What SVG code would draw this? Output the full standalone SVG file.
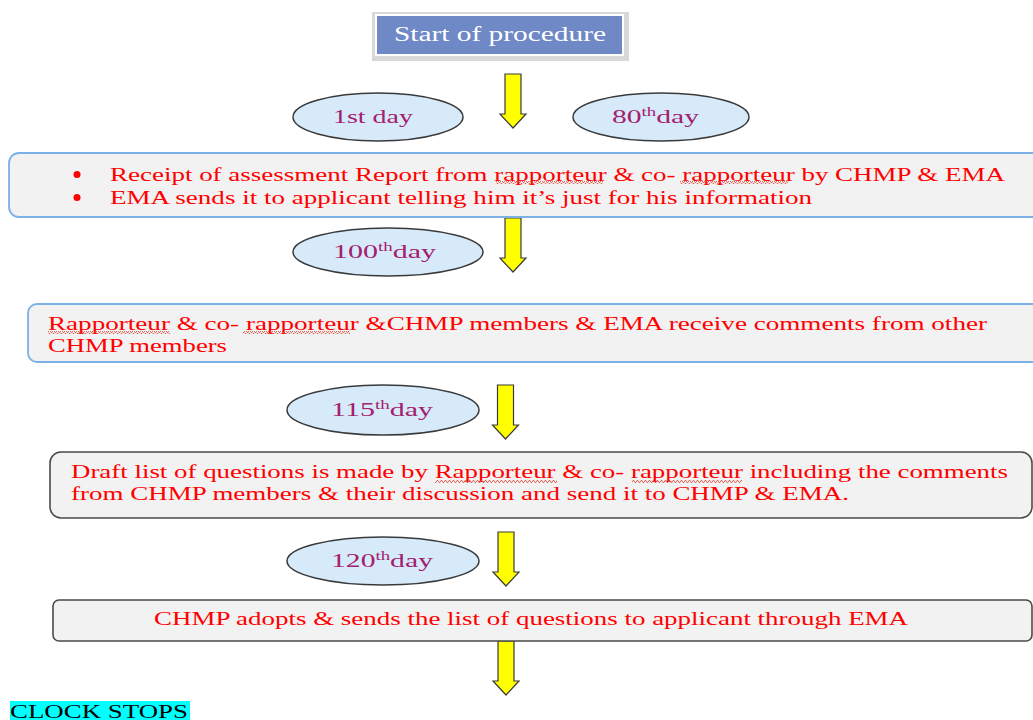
<svg xmlns="http://www.w3.org/2000/svg" width="1033" height="720" viewBox="0 0 1033 720">
<style>
.t{font-family:"Liberation Serif","Times New Roman",serif;font-size:19px;fill:#FF0000}
.e{font-family:"Liberation Serif","Times New Roman",serif;font-size:19px;fill:#A3206E}
.sup{font-size:12px}
.ell{fill:#D7EAFA;stroke:#3A3A3A;stroke-width:1.5}
.boxb{fill:#F2F2F2;stroke:#7BB1E6;stroke-width:1.8}
.boxd{fill:#F2F2F2;stroke:#4A4A4A;stroke-width:1.6}
.arr{fill:#FFFF00;stroke:#3A3A3A;stroke-width:1.2}
.wv{fill:url(#wave)}
</style>
<defs>
<path id="arrow" d="M-8,0 H8 V40 H13 L0,54 L-13,40 H-8 Z"/>
<pattern id="wave" width="4" height="3" patternUnits="userSpaceOnUse">
<path d="M0,2.5 L1,0.5 L2,0.5 L3,2.5 L4,2.5" fill="none" stroke="#E0483C" stroke-width="0.8"/>
</pattern>
</defs>
<rect width="1033" height="720" fill="#FFFFFF"/>

<g id="start">
<rect x="372" y="12" width="257" height="49" fill="#D8D8D8"/>
<rect x="375" y="14" width="249" height="42" fill="#FFFFFF"/>
<rect x="377" y="16" width="245" height="38" fill="#6F88C6"/>
<text x="394" y="41" textLength="212" lengthAdjust="spacingAndGlyphs" style="font-family:'Liberation Serif','Times New Roman',serif;font-size:20px;fill:#FFFFFF">Start of procedure</text>
</g>

<g id="connectors">
<use href="#arrow" class="arr" transform="translate(513,74)"/>
<use href="#arrow" class="arr" transform="translate(513,218)"/>
<use href="#arrow" class="arr" transform="translate(505.5,385)"/>
<use href="#arrow" class="arr" transform="translate(506,532)"/>
<use href="#arrow" class="arr" transform="translate(506,641)"/>
</g>

<g id="day1">
<ellipse class="ell" cx="378" cy="117" rx="85" ry="24"/>
<text class="e" x="333" y="123" textLength="80" lengthAdjust="spacingAndGlyphs">1st day</text>
</g>
<g id="day80">
<ellipse class="ell" cx="661" cy="117" rx="88" ry="24"/>
<text class="e" x="612" y="123" textLength="87" lengthAdjust="spacingAndGlyphs">80<tspan class="sup" dy="-7">th</tspan><tspan dy="7">day</tspan></text>
</g>

<g id="box1">
<rect class="boxb" x="9" y="153" width="1040" height="64" rx="10"/>
<circle cx="77" cy="174.5" r="3.5" fill="#FF0000"/>
<circle cx="77" cy="197.5" r="3.5" fill="#FF0000"/>
<text class="t" x="110" y="181" textLength="895" lengthAdjust="spacingAndGlyphs">Receipt of assessment Report from rapporteur &amp; co- rapporteur by CHMP &amp; EMA</text>
<text class="t" x="110" y="204" textLength="702" lengthAdjust="spacingAndGlyphs">EMA sends it to applicant telling him it’s just for his information</text>
<rect class="wv" x="496" y="181" width="107" height="3"/>
<rect class="wv" x="680" y="181" width="108" height="3"/>
</g>

<g id="day100">
<ellipse class="ell" cx="388" cy="252" rx="95" ry="24"/>
<text class="e" x="333" y="258" textLength="103" lengthAdjust="spacingAndGlyphs">100<tspan class="sup" dy="-7">th</tspan><tspan dy="7">day</tspan></text>
</g>

<g id="box2">
<rect class="boxb" x="28" y="304" width="1020" height="58" rx="9"/>
<text class="t" x="48" y="330" textLength="939" lengthAdjust="spacingAndGlyphs">Rapporteur &amp; co- rapporteur &amp;CHMP members &amp; EMA receive comments from other</text>
<text class="t" x="48" y="352" textLength="179" lengthAdjust="spacingAndGlyphs">CHMP members</text>
<rect class="wv" x="48" y="331" width="122" height="3"/>
<rect class="wv" x="243" y="331" width="107" height="3"/>
</g>

<g id="day115">
<ellipse class="ell" cx="383" cy="410" rx="96" ry="25"/>
<text class="e" x="331" y="416" textLength="102" lengthAdjust="spacingAndGlyphs">115<tspan class="sup" dy="-7">th</tspan><tspan dy="7">day</tspan></text>
</g>

<g id="box3">
<rect class="boxd" x="50" y="452" width="982" height="66" rx="11"/>
<text class="t" x="71" y="478" textLength="937" lengthAdjust="spacingAndGlyphs">Draft list of questions is made by Rapporteur &amp; co- rapporteur including the comments</text>
<text class="t" x="71" y="500" textLength="778" lengthAdjust="spacingAndGlyphs">from CHMP members  &amp; their discussion and send it to CHMP &amp; EMA.</text>
<rect class="wv" x="435" y="480" width="122" height="3"/>
<rect class="wv" x="632" y="480" width="110" height="3"/>
</g>

<g id="day120">
<ellipse class="ell" cx="383" cy="561" rx="96" ry="24"/>
<text class="e" x="331" y="567" textLength="102" lengthAdjust="spacingAndGlyphs">120<tspan class="sup" dy="-7">th</tspan><tspan dy="7">day</tspan></text>
</g>

<g id="box4">
<rect class="boxd" x="53" y="600" width="979" height="41" rx="6"/>
<text class="t" x="154" y="625" textLength="754" lengthAdjust="spacingAndGlyphs">CHMP adopts &amp; sends the list of questions to applicant through EMA</text>
</g>

<g id="clock">
<rect x="10" y="701" width="180" height="19" fill="#00FFFF"/>
<text x="10" y="718" textLength="178" lengthAdjust="spacingAndGlyphs" style="font-family:'Liberation Serif','Times New Roman',serif;font-size:19px;fill:#000000">CLOCK STOPS</text>
</g>
</svg>
